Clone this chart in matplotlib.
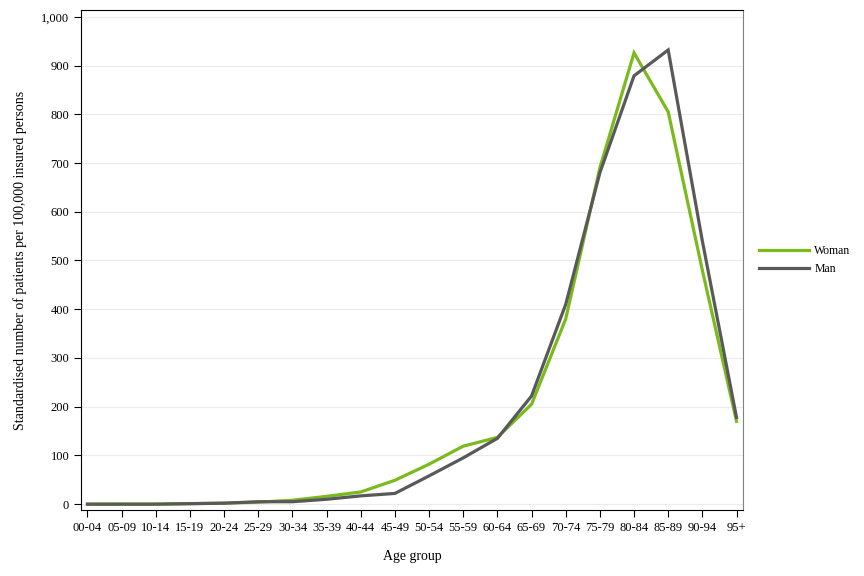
import numpy as np
import matplotlib
matplotlib.use("Agg")
import matplotlib.pyplot as plt

age_groups = ["00-04", "05-09", "10-14", "15-19", "20-24", "25-29", "30-34",
              "35-39", "40-44", "45-49", "50-54", "55-59", "60-64", "65-69",
              "70-74", "75-79", "80-84", "85-89", "90-94", "95+"]
woman = [0, 0, 0, 1, 2, 4, 8, 16, 25, 49, 82, 119, 137, 205, 380, 690, 926, 805, 480, 170]
man = [0, 0, 0, 1, 2, 5, 5, 10, 17, 22, 58, 95, 135, 222, 410, 680, 879, 932, 540, 178]
y_ticks = [0, 100, 200, 300, 400, 500, 600, 700, 800, 900, 1000]

plt.rcParams['font.family'] = ['Liberation Serif', 'DejaVu Serif']

fig = plt.figure(figsize=(8.64, 5.76), dpi=100)
ax = fig.add_axes([81 / 864, 1 - 510 / 576, 662 / 864, 500 / 576])

x = np.arange(len(age_groups))
ax.plot(x, woman, color='#7aba1c', lw=2.3, label='Woman', solid_joinstyle='miter')
ax.plot(x, man, color='#595959', lw=2.3, label='Man', solid_joinstyle='miter')

ax.set_xlim(-0.19, 19.19)
ax.set_ylim(-12, 1014)
ax.set_xticks(x)
ax.set_xticklabels(age_groups)
ax.set_yticks(y_ticks)
ax.set_yticklabels([f"{v:,}" for v in y_ticks])
ax.tick_params(labelsize=9, length=5, width=0.8, colors='black', direction='out')
ax.yaxis.grid(True, color='#ebebeb', lw=0.8)
ax.set_axisbelow(True)
for s in ['left', 'bottom', 'top']:
    ax.spines[s].set_color('black')
ax.spines['right'].set_color('#808080')

ax.set_xlabel('Age group', fontsize=10, labelpad=12)
ax.set_ylabel('Standardised number of patients per 100,000 insured persons', fontsize=10, labelpad=10)

ax.legend(loc='center left', bbox_to_anchor=(1.008, 0.5), frameon=False,
          fontsize=8.5, handlelength=4.2, handletextpad=0.5, labelspacing=0.45)

fig.savefig('out.png', dpi=100)
